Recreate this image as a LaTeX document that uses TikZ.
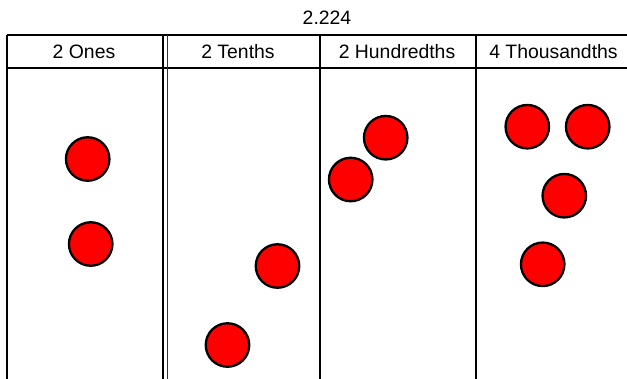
\documentclass[tikz,border=0pt]{standalone}
\usepackage{fontspec}
\setmainfont{Liberation Sans}
\begin{document}
\begin{tikzpicture}[x=1pt,y=-1pt,
  frame/.style={line width=2pt, black},
  thinframe/.style={line width=1.3pt, black!80},
  dot/.style={circle, draw=black, fill=red, line width=2.3pt, minimum size=43.5pt, inner sep=0pt},
  header/.style={font=\fontsize{19.4}{23}\selectfont, anchor=center, inner sep=0pt}]
\useasboundingbox (0,0) rectangle (627,378);
% title
\node[header] (title) at (327,18) {2.224};
% frame lines
\draw[frame] (7,35) -- (640,35);
\draw[frame] (7,67.5) -- (640,67.5);
\draw[frame] (7,35) -- (7,390);
\draw[frame] (163.3,35) -- (163.3,390);
\draw[thinframe] (167.3,35) -- (167.3,390);
\draw[frame] (319.5,35) -- (319.5,390);
\draw[frame] (476,35) -- (476,390);
% headers
\node[header] (h1) at (84,51.5) {2 Ones};
\node[header] (h2) at (238,51.5) {2 Tenths};
\node[header] (h3) at (397,51.5) {2 Hundredths};
\node[header] (h4) at (553.5,51.5) {4 Thousandths};
% ones
\node[dot] (o1) at (87.7,159) {};
\node[dot] (o2) at (90.7,244) {};
% tenths
\node[dot] (t1) at (277.5,266) {};
\node[dot] (t2) at (227.5,345) {};
% hundredths
\node[dot] (u1) at (385.7,137.7) {};
\node[dot] (u2) at (350.7,179.5) {};
% thousandths
\node[dot] (k1) at (527.3,126.7) {};
\node[dot] (k2) at (587.7,126.7) {};
\node[dot] (k3) at (564.3,195.7) {};
\node[dot] (k4) at (542.7,264.3) {};
\end{tikzpicture}
\end{document}
